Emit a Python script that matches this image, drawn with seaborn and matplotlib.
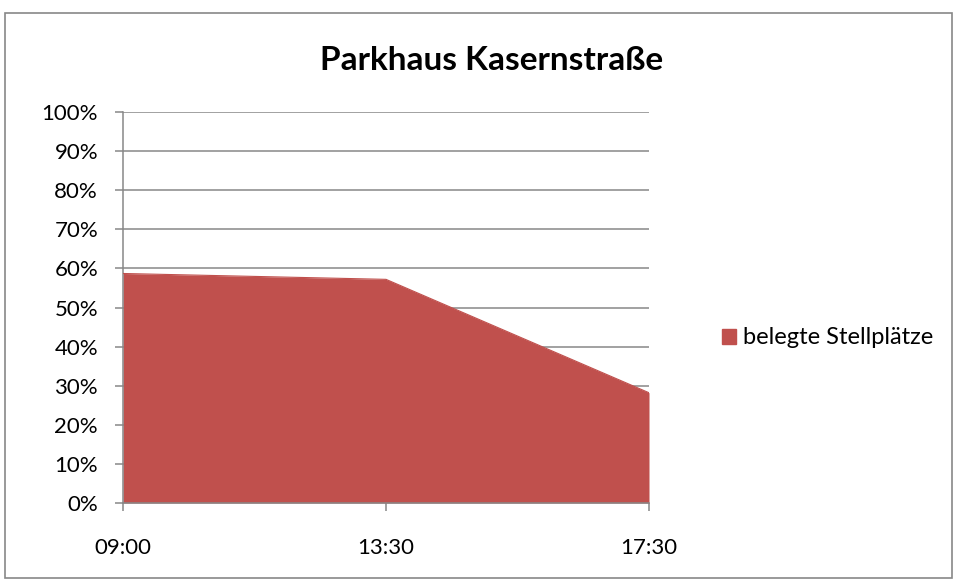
import matplotlib
matplotlib.use("Agg")
import matplotlib.pyplot as plt
import seaborn as sns
from matplotlib.patches import Rectangle, Patch

# -----------------------------
# Data
# -----------------------------
times = ["09:00", "13:30", "17:30"]
occupied = [58.7, 57.2, 28.2]
series_name = "belegte Stellplätze"
title = "Parkhaus Kasernstraße"
y_ticks = list(range(0, 101, 10))

sns.set_style("white")
plt.rcParams["font.family"] = ["Lato", "DejaVu Sans"]
plt.rcParams["text.color"] = "black"

fill_color = "#C0504D"
grid_color = "#878787"

fig = plt.figure(figsize=(9.58, 5.83), dpi=100)
ax = fig.add_axes([123 / 958, 1 - 503 / 583, (649 - 123) / 958, (503 - 112) / 583])

x = list(range(len(times)))
ax.fill_between(x, occupied, 0, color=fill_color, linewidth=0, zorder=2)
sns.lineplot(x=x, y=occupied, ax=ax, color=fill_color, linewidth=0.8, zorder=3)

ax.set_xlim(0, len(times) - 1)
ax.set_ylim(0, 100)
ax.set_yticks(y_ticks)
ax.set_yticklabels([f"{t}%" for t in y_ticks], fontsize=16, color="black")
ax.set_xticks(x)
ax.set_xticklabels(times, fontsize=16, color="black")
ax.yaxis.grid(True, color=grid_color, linewidth=1.1, zorder=1)
ax.set_axisbelow(True)

for side in ["top", "right"]:
    ax.spines[side].set_visible(False)
for side in ["left", "bottom"]:
    ax.spines[side].set_color(grid_color)
    ax.spines[side].set_linewidth(1.1)

ax.tick_params(axis="both", which="both", length=6, width=1.1, color=grid_color,
               direction="out", left=True, bottom=True, labelcolor="black")
ax.tick_params(axis="y", pad=12)
ax.tick_params(axis="x", pad=19)

fig.text(492 / 958, 1 - 60 / 583, title, ha="center", va="center",
         fontsize=24, fontweight="bold", color="black")

handles = [Patch(facecolor=fill_color, edgecolor=fill_color, label=series_name)]
leg = fig.legend(handles=handles, loc="center left", bbox_to_anchor=(710 / 958, 1 - 338 / 583),
                 frameon=False, fontsize=17, handlelength=0.6, handleheight=0.6,
                 handletextpad=0.3, borderpad=0)
for t in leg.get_texts():
    t.set_color("black")

# outer chart frame
fig.patches.append(Rectangle((5 / 958, 5 / 583), 947 / 958, (578 - 13) / 583,
                             transform=fig.transFigure, fill=False,
                             edgecolor=grid_color, linewidth=1.2))

fig.savefig("out.png", dpi=100)
plt.close(fig)
